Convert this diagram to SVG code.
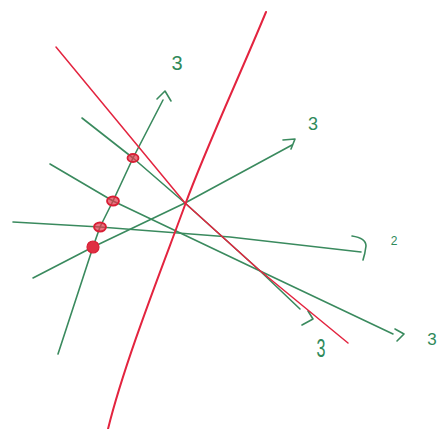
<svg xmlns="http://www.w3.org/2000/svg" width="438" height="429" viewBox="0 0 438 429">
<style>
.g{fill:none;stroke:#3a8a5e;stroke-width:1.6;stroke-linecap:round;stroke-linejoin:round}
.r{fill:none;stroke:#e3243f;stroke-width:1.5;stroke-linecap:round;stroke-linejoin:round}
.dot{fill:#e4384c;fill-opacity:0.7;stroke:#d81f35;stroke-width:1.8}
.lbl{fill:#2f8a5a;font-family:"Liberation Sans",Arial,sans-serif;text-anchor:middle}
</style>
<rect width="438" height="429" fill="#ffffff"/>
<g id="connectors">
  <path id="lineA" class="g" d="M58,354 L93,247 L100,227 L113,201 L133,158 L163,100"/>
  <path class="g" d="M157,99 L165,91 L171,101"/>
  <path id="lineB" class="g" d="M33,278 L93,247 L185,203 L292,145"/>
  <path class="g" d="M283,140 L295,139 L291,149"/>
  <path id="lineC" class="g" d="M13,222 L100,227 L230,237 L361,252"/>
  <path class="g" d="M352,236 Q366,238 366,246 Q365,254 363,260"/>
  <path id="lineD" class="g" d="M50,164 L113,201 L258,270 L393,334"/>
  <path class="g" d="M395,329 L404,334 L397,341"/>
  <path id="lineE" class="g" d="M82,118 L133,158 L185,203 L258,269 L300,309"/>
  <path class="g" d="M308,311 L313,319 L302,325"/>
  <path id="redLine" class="r" d="M56,47 L185,203 L258,269 L348,343"/>
  <path id="redCurve" class="r" style="stroke-width:2" d="M266,12 C240,75 205,150 185,205 C165,260 125,360 108,429"/>
</g>
<g id="dots">
  <ellipse id="dot1" class="dot" cx="133" cy="158" rx="5.5" ry="4"/>
  <ellipse id="dot2" class="dot" cx="113" cy="201" rx="6" ry="4.5"/>
  <ellipse id="dot3" class="dot" cx="100" cy="227" rx="6" ry="4.5"/>
  <circle id="dot4" cx="93" cy="247" r="6" fill="#df2f42" stroke="#d81f35" stroke-width="1.2"/>
</g>
<g id="labels">
  <text class="lbl" x="177" y="70" font-size="20">3</text>
  <text class="lbl" x="313" y="130" font-size="18">3</text>
  <text class="lbl" x="394" y="245" font-size="12">2</text>
  <text class="lbl" x="432" y="345" font-size="17">3</text>
  <text class="lbl" font-size="26" transform="translate(321,357) scale(0.62,1)">3</text>
</g>
</svg>
